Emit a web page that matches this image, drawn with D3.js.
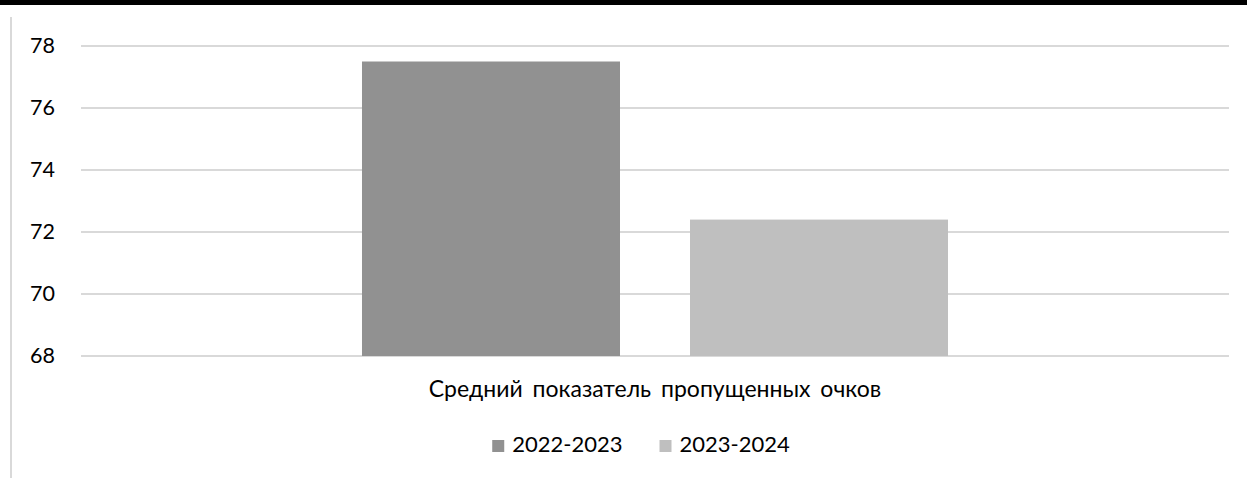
<!DOCTYPE html>
<html>
<head>
<meta charset="utf-8">
<script src="https://d3js.org/d3.v7.min.js"></script>
<style>
  html, body { margin: 0; padding: 0; background: #fff; }
  svg { display: block; font-family: Lato, "Open Sans", sans-serif; }
</style>
</head>
<body>
<script>
const categories = ["Средний показатель пропущенных очков"];
const seriesNames = ["2022-2023", "2023-2024"];
const seriesValues = [77.5, 72.4];
const seriesColors = ["#919191", "#bfbfbf"];
const yTicks = [68, 70, 72, 74, 76, 78];

const W = 1247, H = 478;
const svg = d3.select("body").append("svg").attr("width", W).attr("height", H);

// frame decorations
svg.append("rect").attr("x", 0).attr("y", 0).attr("width", W).attr("height", 5).attr("fill", "#000");
svg.append("line").attr("x1", 11).attr("x2", 11).attr("y1", 17).attr("y2", H)
  .attr("stroke", "#d9d9d9").attr("stroke-width", 2);

const plot = { left: 81, right: 1229, top: 46, bottom: 356 };

const y = d3.scaleLinear().domain([68, 78]).range([plot.bottom, plot.top]);
const x0 = d3.scaleBand().domain(categories).range([plot.left, plot.right])
  .paddingInner(0).paddingOuter(0.4795);
const x1 = d3.scaleBand().domain(seriesNames).range([0, x0.bandwidth()])
  .paddingInner(0.2134).paddingOuter(0);

// gridlines
svg.append("g").selectAll("line").data(yTicks).join("line")
  .attr("x1", plot.left).attr("x2", plot.right)
  .attr("y1", d => y(d)).attr("y2", d => y(d))
  .attr("stroke", "#d9d9d9").attr("stroke-width", 2);

// y axis labels
const yAxis = d3.axisLeft(y).tickValues(yTicks).tickSize(0).tickPadding(0).tickFormat(d3.format("d"));
const gy = svg.append("g").attr("transform", `translate(55,0)`).call(yAxis);
gy.select(".domain").remove();
gy.selectAll("text").attr("font-size", 21.5).attr("fill", "#000")
  .attr("font-family", "Lato, 'Open Sans', sans-serif");

// bars
const data = seriesNames.map((s, i) => ({ cat: categories[0], name: s, value: seriesValues[i], color: seriesColors[i] }));
svg.append("g").selectAll("rect").data(data).join("rect")
  .attr("x", d => x0(d.cat) + x1(d.name))
  .attr("width", x1.bandwidth())
  .attr("y", d => y(d.value))
  .attr("height", d => y(68) - y(d.value))
  .attr("fill", d => d.color);

// category axis label
const xAxis = d3.axisBottom(x0).tickSize(0).tickPadding(0);
const gx = svg.append("g").attr("transform", `translate(0,397)`).call(xAxis);
gx.select(".domain").remove();
gx.selectAll("text").attr("font-size", 23).attr("fill", "#000").attr("dy", 0)
  .attr("font-family", "Lato, 'Open Sans', sans-serif").attr("word-spacing", "4px");

// legend
const leg = svg.append("g");
let cx = 0;
const items = leg.selectAll("g").data(data).join("g");
items.each(function(d, i) {
  const g = d3.select(this);
  g.append("rect").attr("width", 12).attr("height", 12).attr("y", -12).attr("fill", d.color);
  const t = g.append("text").attr("x", 20).attr("y", 0).attr("font-size", 22).attr("fill", "#000").text(d.name);
  const w = 20 + t.node().getComputedTextLength();
  g.attr("transform", `translate(${cx},0)`);
  cx += w + 37;
});
const totalW = cx - 37;
leg.attr("transform", `translate(${641 - totalW / 2},452)`);
</script>
</body>
</html>
